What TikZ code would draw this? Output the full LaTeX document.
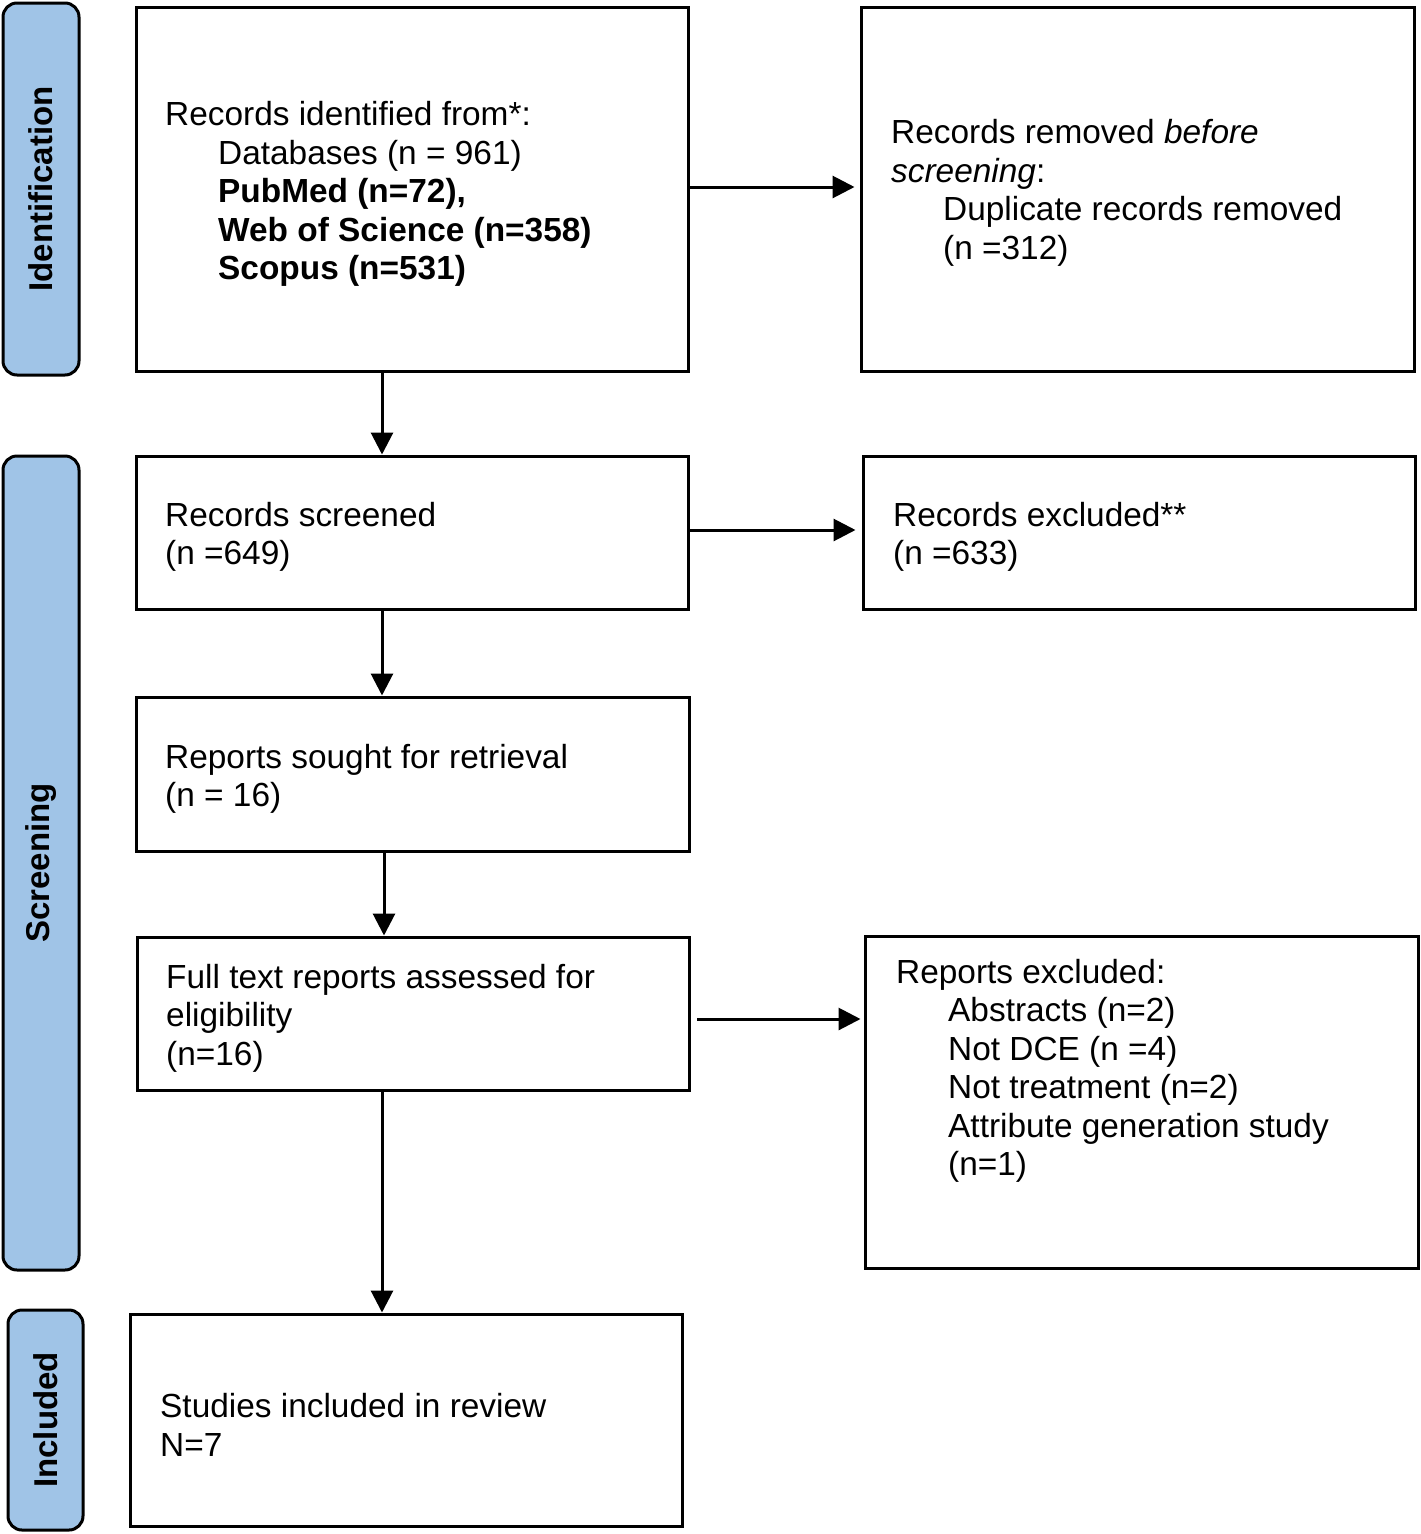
\documentclass[tikz,border=0pt]{standalone}
\usepackage{fontspec}
\setmainfont{Liberation Sans}
\usetikzlibrary{arrows.meta}
\definecolor{tabblue}{RGB}{160,196,231}
\begin{document}
\begin{tikzpicture}[x=1pt,y=-1pt,
  box/.style={draw,line width=3pt,rectangle,inner sep=0pt},
  tab/.style={draw,line width=3pt,rounded corners=14pt,fill=tabblue,inner sep=0pt},
  tablabel/.style={rotate=90,inner sep=0pt,font=\fontsize{33}{38.5}\selectfont\bfseries},
  txt/.style={align=left,anchor=west,inner sep=0pt,yshift=-4pt,font=\fontsize{33.4}{38.5}\selectfont},
  arr/.style={line width=3pt,-{Triangle[length=22pt,width=22pt]}}]
\useasboundingbox (0,0) rectangle (1421,1534);

% side tabs
\node[tab,minimum width=76pt,minimum height=372pt] (T1) at (41,189) {};
\node[tablabel] (L1) at (T1.center) {Identification};
\node[tab,minimum width=76pt,minimum height=814pt] (T2) at (41,863) {};
\node[tablabel] (L2) at (T2.center) {Screening};
\node[tab,minimum width=75pt,minimum height=220pt] (T3) at (45.5,1420) {};
\node[tablabel] (L3) at (T3.center) {Included};

% boxes
\node[box,minimum width=552pt,minimum height=364pt] (A) at (412,189) {};
\node[box,minimum width=553pt,minimum height=364pt] (B) at (1137.5,189) {};
\node[box,minimum width=552pt,minimum height=153pt] (C) at (412,532.5) {};
\node[box,minimum width=552pt,minimum height=153pt] (D) at (1139,532.5) {};
\node[box,minimum width=553pt,minimum height=154pt] (E) at (412.5,774) {};
\node[box,minimum width=552pt,minimum height=153pt] (F) at (413,1013.5) {};
\node[box,minimum width=553pt,minimum height=332pt] (G) at (1141.5,1102) {};
\node[box,minimum width=552pt,minimum height=212pt] (H) at (406,1420) {};

% texts
\node[txt] (At) at (165,190) {Records identified from*:\\
\hspace*{53pt}Databases (n = 961)\\
\hspace*{53pt}\textbf{PubMed (n=72),}\\
\hspace*{53pt}\textbf{Web of Science (n=358)}\\
\hspace*{53pt}\textbf{Scopus (n=531)}};
\node[txt] (Bt) at (891,189) {Records removed \textit{before}\\
\textit{screening}:\\
\hspace*{52pt}Duplicate records removed\\
\hspace*{52pt}(n =312)};
\node[txt] (Ct) at (165,533) {Records screened\\(n =649)};
\node[txt] (Dt) at (893,533) {Records excluded**\\(n =633)};
\node[txt] (Et) at (165,775) {Reports sought for retrieval\\(n = 16)};
\node[txt] (Ft) at (166,1014) {Full text reports assessed for\\eligibility\\(n=16)};
\node[txt] (Gt) at (896,1067) {Reports excluded:\\
\hspace*{52pt}Abstracts (n=2)\\
\hspace*{52pt}Not DCE (n =4)\\
\hspace*{52pt}Not treatment (n=2)\\
\hspace*{52pt}Attribute generation study\\
\hspace*{52pt}(n=1)};
\node[txt] (Ht) at (160,1421) {Studies included in review\\N=7};

% helper coordinates
\coordinate (xa) at (382,0);
\coordinate (xb) at (384,0);
\coordinate (y1) at (0,187);
\coordinate (y2) at (0,530);
\coordinate (y4) at (0,1019);
\coordinate (x4) at (697,0);

% arrows
\draw[arr,shorten >=5pt] (A.east |- y1) -- (B.west |- y1);
\draw[arr] (A.south -| xa) -- (C.north -| xa);
\draw[arr,shorten >=6pt] (C.east |- y2) -- (D.west |- y2);
\draw[arr] (C.south -| xa) -- (E.north -| xa);
\draw[arr] (E.south -| xb) -- (F.north -| xb);
\draw[arr,shorten >=3pt] (x4 |- y4) -- (G.west |- y4);
\draw[arr] (F.south -| xa) -- (H.north -| xa);
\end{tikzpicture}
\end{document}
